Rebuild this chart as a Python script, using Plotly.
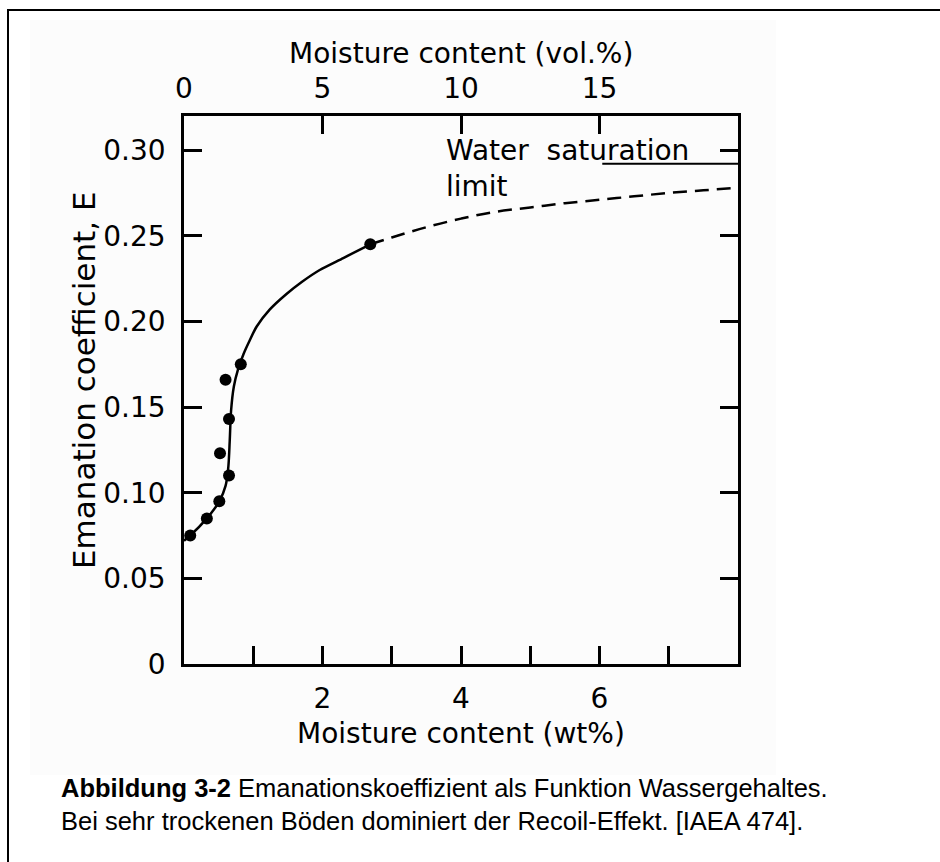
import plotly.graph_objects as go

# ---- data ----
meas_wt = [0.09, 0.33, 0.51, 0.65, 0.52, 0.65, 0.60, 0.82, 2.69]
meas_E = [0.075, 0.085, 0.095, 0.110, 0.123, 0.143, 0.166, 0.175, 0.245]

fit_wt = [0.0, 0.09, 0.33, 0.51, 0.60, 0.64, 0.66, 0.68, 0.72, 0.78, 0.86, 0.95, 1.05, 1.24, 1.48, 1.70, 1.96, 2.30, 2.69]
fit_E = [0.072, 0.075, 0.085, 0.095, 0.104, 0.115, 0.130, 0.148, 0.162, 0.172, 0.181, 0.189, 0.197, 0.207, 0.216, 0.223, 0.230, 0.237, 0.245]

ext_wt = [2.69, 3.0, 3.5, 4.0, 4.5, 5.0, 5.5, 6.0, 6.5, 7.0, 7.5, 8.0]
ext_E = [0.245, 0.249, 0.255, 0.260, 0.264, 0.2665, 0.269, 0.271, 0.273, 0.275, 0.2765, 0.278]

sat_wt = [6.04, 8.0]
sat_E = [0.292, 0.292]

y_ticks = [0, 0.05, 0.10, 0.15, 0.20, 0.25, 0.30]
y_labels = ["0", "0.05", "0.10", "0.15", "0.20", "0.25", "0.30"]
x_ticks = [1, 2, 3, 4, 5, 6, 7]
x_labels = ["", "2", "", "4", "", "6", ""]
vol_ticks = [0, 5, 10, 15]
vol_labels = ["0", "5", "10", "15"]

FONT = "DejaVu Sans, Liberation Sans, Arial"
CAP = "Liberation Sans, Arial"

W, H = 940, 862
L, R, T, B = 184, 738, 116, 664  # plot box in pixels


def px(x):
    return (x - L) / (R - L)


def py(y):
    return (B - y) / (B - T)


fig = go.Figure()
fig.add_trace(go.Scatter(x=fit_wt, y=fit_E, mode="lines",
                         line=dict(color="black", width=2.5, shape="spline", smoothing=0.8),
                         showlegend=False, hoverinfo="skip"))
fig.add_trace(go.Scatter(x=ext_wt, y=ext_E, mode="lines",
                         line=dict(color="black", width=2.5, dash="14px,8px", shape="spline"),
                         showlegend=False, hoverinfo="skip"))
fig.add_trace(go.Scatter(x=sat_wt, y=sat_E, mode="lines", line=dict(color="black", width=2),
                         showlegend=False, hoverinfo="skip"))
fig.add_trace(go.Scatter(x=meas_wt, y=meas_E, mode="markers", marker=dict(color="black", size=12),
                         showlegend=False))
# invisible trace for top axis
fig.add_trace(go.Scatter(x=[0, 20], y=[None, None], xaxis="x2", mode="markers",
                         showlegend=False, hoverinfo="skip"))

axis_common = dict(showgrid=False, zeroline=False, linecolor="black", linewidth=2.5,
                   ticks="inside", ticklen=18, tickwidth=2.5, tickcolor="black",
                   tickfont=dict(family=FONT, size=28, color="black"))

fig.update_layout(
    width=W, height=H,
    margin=dict(l=L, r=W - R, t=T, b=H - B, pad=0),
    paper_bgcolor="white", plot_bgcolor="rgba(0,0,0,0)",
    xaxis=dict(range=[0, 8], tickmode="array", tickvals=x_ticks, ticktext=x_labels,
               mirror=True, ticklabelstandoff=8, **axis_common),
    xaxis2=dict(range=[0, 20], overlaying="x", side="top", tickmode="array",
                tickvals=vol_ticks, ticktext=vol_labels, ticklabelstandoff=4, **axis_common),
    yaxis=dict(range=[0, (B - T) / 1713.0], tickmode="array", tickvals=y_ticks, ticktext=y_labels,
               mirror="ticks", ticklabelstandoff=10, **axis_common),
    shapes=[
        dict(type="rect", xref="paper", yref="paper", x0=px(30), x1=px(776), y0=py(20), y1=py(775),
             fillcolor="#fcfcfc", line=dict(width=0), layer="below"),
        dict(type="rect", xref="paper", yref="paper", x0=px(8), x1=px(950), y0=py(10), y1=py(880),
             fillcolor="rgba(0,0,0,0)", line=dict(color="black", width=2), layer="above"),
    ],
    annotations=[
        dict(text="Moisture content (vol.%)", xref="paper", yref="paper", x=0.5, y=py(53),
             showarrow=False, font=dict(family=FONT, size=28, color="black"),
             xanchor="center", yanchor="middle"),
        dict(text="Moisture content (wt%)", xref="paper", yref="paper", x=0.5, y=py(733),
             showarrow=False, font=dict(family=FONT, size=28, color="black"),
             xanchor="center", yanchor="middle"),
        dict(text="Emanation coefficient, E", xref="paper", yref="paper", x=px(84), y=py(380),
             showarrow=False, textangle=-90, font=dict(family=FONT, size=31, color="black"),
             xanchor="center", yanchor="middle"),
        dict(text="Water  saturation<br>limit", xref="x", yref="paper", x=3.76, y=py(168),
             showarrow=False, align="left", font=dict(family=FONT, size=28, color="black"),
             xanchor="left", yanchor="middle"),
        dict(text="<b>Abbildung 3-2</b> Emanationskoeffizient als Funktion Wassergehaltes.<br>"
                  "Bei sehr trockenen Böden dominiert der Recoil-Effekt. [IAEA 474].",
             xref="paper", yref="paper", x=px(59), y=py(772), showarrow=False, align="left",
             font=dict(family=CAP, size=25.5, color="black"), xanchor="left", yanchor="top"),
    ],
)

fig.write_html("out.html")
